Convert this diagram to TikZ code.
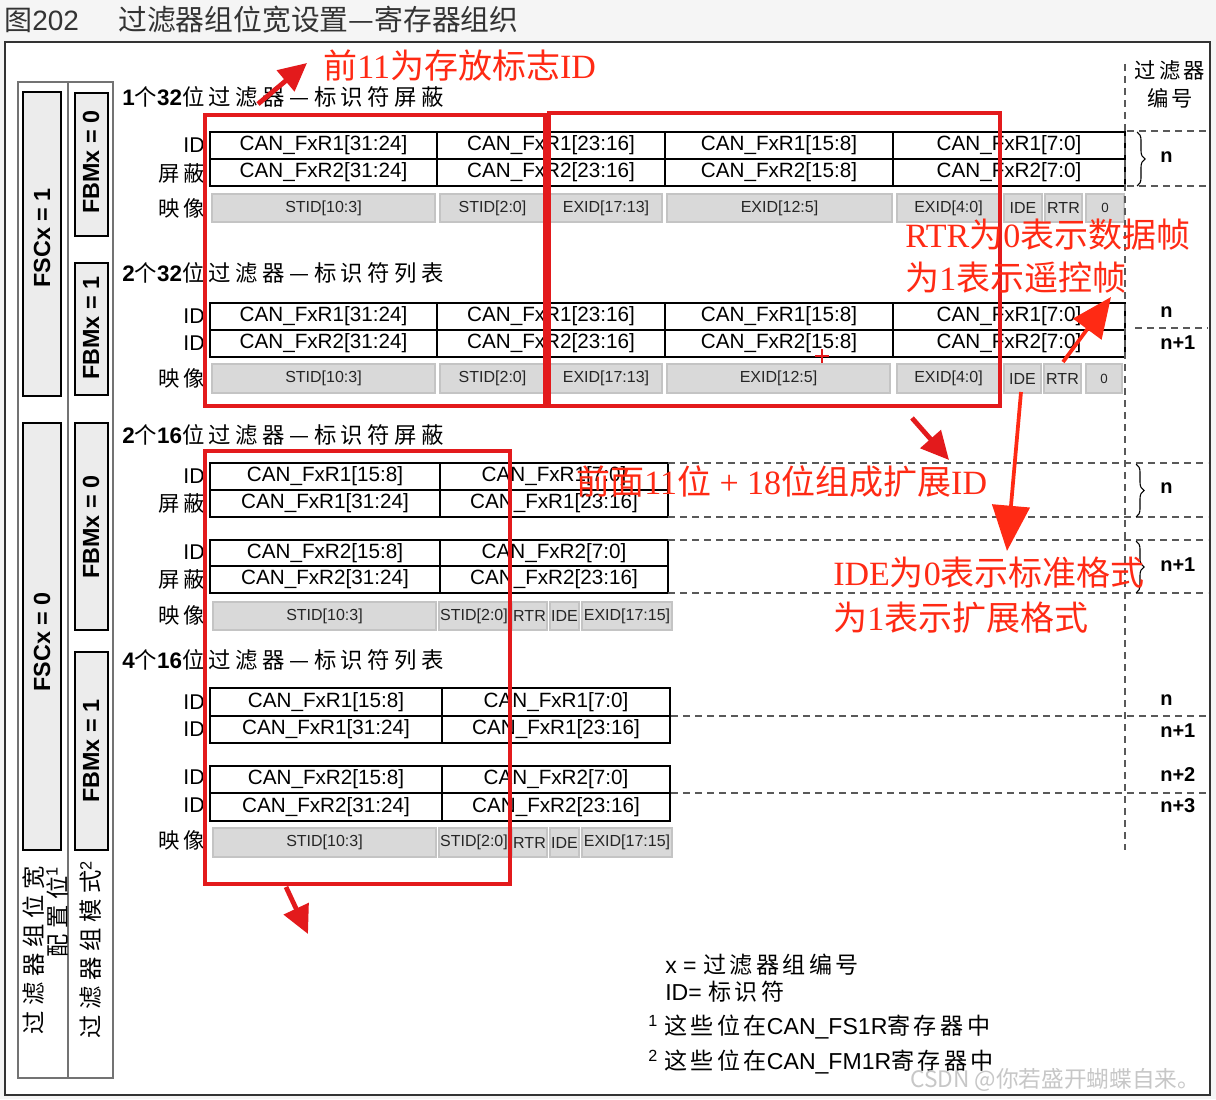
\documentclass[tikz,border=0pt]{standalone}
\usepackage{fontspec}
\setmainfont{Liberation Sans}
\newfontfamily\cjk{Noto Sans CJK SC}
\newfontfamily\cjks[LetterSpace=15]{Noto Sans CJK SC}
\newfontfamily\cjkt[LetterSpace=20]{Noto Sans CJK SC}
\newfontfamily\cjkv[LetterSpace=24]{Noto Sans CJK SC}
\newfontfamily\rser{Liberation Serif}
\usetikzlibrary{arrows.meta,decorations.pathreplacing}
\definecolor{redA}{HTML}{E31A1C}
\definecolor{redB}{HTML}{FF2A14}
\definecolor{cellgray}{HTML}{D9D9D9}
\definecolor{celledge}{HTML}{C4C4C4}
\definecolor{panelgray}{HTML}{ECECEC}
\definecolor{titlegray}{HTML}{333333}
\newcommand\fsz[2]{\fontsize{#1pt}{#2pt}\selectfont}
\tikzset{
  regbox/.style={draw=black, line width=1.1pt, fill=white},
  regtxt/.style={inner sep=0pt, font=\fsz{15.5}{18}},
  graybox/.style={draw=celledge, line width=1.2pt, fill=cellgray},
  graytxt/.style={inner sep=0pt, font=\fsz{12}{14}, text=black!85},
  lab/.style={anchor=east, inner sep=0pt, font=\fsz{16}{18}},
  sect/.style={anchor=west, inner sep=0pt, font=\cjkt\fsz{16.8}{19}},
  flag/.style={draw=black, line width=1pt, fill=panelgray},
  flagtxt/.style={rotate=90, inner sep=0pt, font=\bfseries\fsz{17.5}{20}},
  numlab/.style={anchor=west, inner sep=0pt, font=\bfseries\fsz{15}{18}},
  dline/.style={draw=black!65, line width=0.8pt, dash pattern=on 5pt off 4pt},
  brc/.style={draw=black, line width=0.8pt, decorate, decoration={brace, amplitude=6pt}},
  redbox/.style={draw=redA, line width=3.6pt},
  redtxt/.style={anchor=west, inner sep=0pt, text=redB, font=\fsz{25.5}{28}},
  redarrow/.style={draw=redA, line width=3.6pt, -{Triangle[length=21pt,width=20pt]}},
  redarrowB/.style={draw=redB, line width=2.8pt, -{Triangle[length=30pt,width=26pt]}},
  foot/.style={anchor=west, inner sep=0pt, font=\fsz{17.3}{20}}
}
\newcommand\regc[6]{\path[regbox] (#2,#3) rectangle (#4,#5);
  \node[regtxt] (#1) at ({(#2+#4)/2},{(#3+#5)/2}) {#6};}
\newcommand\grayc[6]{\path[graybox] (#2,#3) rectangle (#4,#5);
  \node[graytxt] (#1) at ({(#2+#4)/2},{(#3+#5)/2}) {#6};}
\newcommand\rc[1]{{\cjk #1}}
\newcommand\rl[1]{{\rser #1}}
\begin{document}
\begin{tikzpicture}[x=0.75pt,y=-0.75pt]
\useasboundingbox (0,0) rectangle (1216,1099);
\fill[black!4] (0,0) rectangle (1216,1099);
% title
\node[anchor=west, inner sep=0pt, text=titlegray, font=\fsz{21}{24}] (fignum) at (4,20) {{\cjk 图}202};
\node[anchor=west, inner sep=0pt, text=titlegray, font=\cjk\fsz{21.6}{24}] (title) at (118,20) {过滤器组位宽设置—寄存器组织};
% main frame
\draw[draw=black!80, line width=1.5pt, fill=white] (5,42) rectangle (1210,1095);
% left panel
\draw[draw=black!55, line width=0.8pt] (18,82) rectangle (113,1078) (68,82) -- (68,1078);
\path[flag] (23,92) rectangle (61,396);
\node[flagtxt] (fsc1) at (42,238) {FSCx = 1};
\path[flag] (75,93) rectangle (108,236);
\node[flagtxt] (fbm0a) at (91,162) {FBMx = 0};
\path[flag] (75,263) rectangle (108,395);
\node[flagtxt] (fbm1a) at (91,328) {FBMx = 1};
\path[flag] (23,423) rectangle (61,850);
\node[flagtxt] (fsc0) at (42,642) {FSCx = 0};
\path[flag] (75,423) rectangle (108,630);
\node[flagtxt] (fbm0b) at (91,527) {FBMx = 0};
\path[flag] (75,652) rectangle (108,850);
\node[flagtxt] (fbm1b) at (91,751) {FBMx = 1};
\node[rotate=90, anchor=east, align=right, inner sep=0pt, font=\cjkv\fsz{17.5}{18}] (wcfg) at (45,866) {过滤器组位宽\\配置位{\rmfamily\textsuperscript{1}}};
\node[rotate=90, anchor=east, inner sep=0pt, font=\cjkv\fsz{17.5}{18}] (mcfg) at (91,860) {过滤器组模式{\rmfamily\textsuperscript{2}}};
% section titles
\node[sect] (s1) at (122,97) {{\rmfamily\bfseries 1}个{\rmfamily\bfseries 32}位过滤器—标识符屏蔽};
\node[sect] (s2) at (122,273) {{\rmfamily\bfseries 2}个{\rmfamily\bfseries 32}位过滤器—标识符列表};
\node[sect] (s3) at (122,435) {{\rmfamily\bfseries 2}个{\rmfamily\bfseries 16}位过滤器—标识符屏蔽};
\node[sect] (s4) at (122,660) {{\rmfamily\bfseries 4}个{\rmfamily\bfseries 16}位过滤器—标识符列表};
% table 1
\regc{t1a}{210}{132}{437}{159}{CAN\_FxR1[31:24]}
\regc{t1b}{437}{132}{665}{159}{CAN\_FxR1[23:16]}
\regc{t1c}{665}{132}{893}{159}{CAN\_FxR1[15:8]}
\regc{t1d}{893}{132}{1125}{159}{CAN\_FxR1[7:0]}
\regc{t1e}{210}{159}{437}{186}{CAN\_FxR2[31:24]}
\regc{t1f}{437}{159}{665}{186}{CAN\_FxR2[23:16]}
\regc{t1g}{665}{159}{893}{186}{CAN\_FxR2[15:8]}
\regc{t1h}{893}{159}{1125}{186}{CAN\_FxR2[7:0]}
\grayc{g1a}{212}{194}{435}{222}{STID[10:3]}
\grayc{g1b}{440}{194}{545}{222}{STID[2:0]}
\grayc{g1c}{550}{194}{662}{222}{EXID[17:13]}
\grayc{g1d}{667}{194}{892}{222}{EXID[12:5]}
\grayc{g1e}{897}{194}{1000}{222}{EXID[4:0]}
\grayc{g1f}{1004}{194}{1042}{222}{IDE}
\grayc{g1g}{1045}{194}{1082}{222}{RTR}
\grayc{g1h}{1086}{194}{1124}{222}{\fsz{10}{12}0}
\node[lab] (l1a) at (205,145) {ID};
\node[lab, font=\cjks\fsz{16}{18}] (l1b) at (205,173) {屏蔽};
\node[lab, font=\cjks\fsz{16}{18}] (l1c) at (205,208) {映像};
% table 2
\regc{t2a}{210}{303}{437}{330}{CAN\_FxR1[31:24]}
\regc{t2b}{437}{303}{665}{330}{CAN\_FxR1[23:16]}
\regc{t2c}{665}{303}{893}{330}{CAN\_FxR1[15:8]}
\regc{t2d}{893}{303}{1125}{330}{CAN\_FxR1[7:0]}
\regc{t2e}{210}{330}{437}{357}{CAN\_FxR2[31:24]}
\regc{t2f}{437}{330}{665}{357}{CAN\_FxR2[23:16]}
\regc{t2g}{665}{330}{893}{357}{CAN\_FxR2[15:8]}
\regc{t2h}{893}{330}{1125}{357}{CAN\_FxR2[7:0]}
\grayc{g2a}{212}{364}{435}{393}{STID[10:3]}
\grayc{g2b}{440}{364}{545}{393}{STID[2:0]}
\grayc{g2c}{550}{364}{662}{393}{EXID[17:13]}
\grayc{g2d}{667}{364}{890}{393}{EXID[12:5]}
\grayc{g2e}{897}{364}{1000}{393}{EXID[4:0]}
\grayc{g2f}{1004}{364}{1041}{393}{IDE}
\grayc{g2g}{1044}{364}{1081}{393}{RTR}
\grayc{g2h}{1086}{364}{1122}{393}{\fsz{10}{12}0}
\node[lab] (l2a) at (205,316) {ID};
\node[lab] (l2b) at (205,343) {ID};
\node[lab, font=\cjks\fsz{16}{18}] (l2c) at (205,378) {映像};
% table 3
\regc{t3a}{210}{463}{440}{490}{CAN\_FxR1[15:8]}
\regc{t3b}{440}{463}{668}{490}{CAN\_FxR1[7:0]}
\regc{t3c}{210}{490}{440}{517}{CAN\_FxR1[31:24]}
\regc{t3d}{440}{490}{668}{517}{CAN\_FxR1[23:16]}
\regc{t3e}{210}{540}{440}{566}{CAN\_FxR2[15:8]}
\regc{t3f}{440}{540}{668}{566}{CAN\_FxR2[7:0]}
\regc{t3g}{210}{566}{440}{593}{CAN\_FxR2[31:24]}
\regc{t3h}{440}{566}{668}{593}{CAN\_FxR2[23:16]}
\grayc{g3a}{213}{602}{436}{630}{STID[10:3]}
\grayc{g3b}{439}{602}{509}{630}{STID[2:0]}
\grayc{g3c}{512}{602}{547}{630}{RTR}
\grayc{g3d}{550}{602}{579}{630}{IDE}
\grayc{g3e}{582}{602}{672}{630}{EXID[17:15]}
\node[lab] (l3a) at (205,476) {ID};
\node[lab, font=\cjks\fsz{16}{18}] (l3b) at (205,503) {屏蔽};
\node[lab] (l3c) at (205,552) {ID};
\node[lab, font=\cjks\fsz{16}{18}] (l3d) at (205,579) {屏蔽};
\node[lab, font=\cjks\fsz{16}{18}] (l3e) at (205,615) {映像};
% table 4
\regc{t4a}{210}{688}{442}{716}{CAN\_FxR1[15:8]}
\regc{t4b}{442}{688}{670}{716}{CAN\_FxR1[7:0]}
\regc{t4c}{210}{716}{442}{743}{CAN\_FxR1[31:24]}
\regc{t4d}{442}{716}{670}{743}{CAN\_FxR1[23:16]}
\regc{t4e}{210}{766}{442}{793}{CAN\_FxR2[15:8]}
\regc{t4f}{442}{766}{670}{793}{CAN\_FxR2[7:0]}
\regc{t4g}{210}{793}{442}{821}{CAN\_FxR2[31:24]}
\regc{t4h}{442}{793}{670}{821}{CAN\_FxR2[23:16]}
\grayc{g4a}{213}{828}{436}{857}{STID[10:3]}
\grayc{g4b}{439}{828}{509}{857}{STID[2:0]}
\grayc{g4c}{512}{828}{547}{857}{RTR}
\grayc{g4d}{550}{828}{579}{857}{IDE}
\grayc{g4e}{582}{828}{672}{857}{EXID[17:15]}
\node[lab] (l4a) at (205,702) {ID};
\node[lab] (l4b) at (205,729) {ID};
\node[lab] (l4c) at (205,777) {ID};
\node[lab] (l4d) at (205,805) {ID};
\node[lab, font=\cjks\fsz{16}{18}] (l4e) at (205,840) {映像};
% right side numbering
\node[align=center, inner sep=0pt, font=\cjks\fsz{16}{21}] (fnum) at (1170,84) {过滤器\\编号};
\path[dline] (1125,64) -- (1125,850);
\path[dline] (1127,131) -- (1208,131) (1127,186) -- (1208,186);
\path[dline] (1135,328) -- (1208,328);
\path[dline] (668,463) -- (1208,463) (668,517) -- (1208,517);
\path[dline] (668,540) -- (1208,540) (668,593) -- (1208,593);
\path[dline] (671,716) -- (1208,716) (671,793) -- (1208,793);
\path[brc] (1137,132) -- (1137,186);
\path[brc] (1136,464) -- (1136,517);
\path[brc] (1136,541) -- (1136,593);
\node[numlab] (n1) at (1160,157) {n};
\node[numlab] (n2a) at (1160,312) {n};
\node[numlab] (n2b) at (1160,343) {n+1};
\node[numlab] (n3a) at (1160,488) {n};
\node[numlab] (n3b) at (1160,565) {n+1};
\node[numlab] (n4a) at (1160,700) {n};
\node[numlab] (n4b) at (1160,731) {n+1};
\node[numlab] (n4c) at (1160,775) {n+2};
\node[numlab] (n4d) at (1160,806) {n+3};
% footnotes
\node[foot] (fx) at (665,965) {x = {\cjks 过滤器组编号}};
\node[foot] (fid) at (665,992) {ID= {\cjks 标识符}};
\node[foot] (f1) at (648,1027) {\textsuperscript{1} {\cjks 这些位在}CAN\_FS1R{\cjks 寄存器中}};
\node[foot] (f2) at (648,1062) {\textsuperscript{2} {\cjks 这些位在}CAN\_FM1R{\cjks 寄存器中}};
\node[anchor=west, inner sep=0pt, text=black!22, font=\cjk\fsz{17}{20}] (wm) at (910,1080) {CSDN @你若盛开蝴蝶自来。};
% red annotations
\path[redbox] (205,115) rectangle (545,406);
\path[redbox] (549,113) rectangle (1000,406);
\path[redbox] (205,451) rectangle (510,884);
\draw[redA, line width=1.2pt] (815,356) -- (829,356) (822,349) -- (822,363);
\node[redtxt] (r1) at (323,66) {\rc{前}\rl{11}\rc{为存放标志}\rl{ID}};
\node[redtxt] (r2) at (905,235) {\rl{RTR}\rc{为}\rl{0}\rc{表示数据帧}};
\node[redtxt] (r3) at (905,278) {\rc{为}\rl{1}\rc{表示遥控帧}};
\node[redtxt] (r4) at (576,482) {\rc{前面}\rl{11}\rc{位}\rl{ + 18}\rc{位组成扩展}\rl{ID}};
\node[redtxt] (r5) at (833,573) {\rl{IDE}\rc{为}\rl{0}\rc{表示标准格式}};
\node[redtxt] (r6) at (833,618) {\rc{为}\rl{1}\rc{表示扩展格式}};
\coordinate (a1s) at (258,104); \coordinate (a1e) at (307,63);
\coordinate (a2s) at (1063,362); \coordinate (a2e) at (1111,297);
\coordinate (a3s) at (1021,392); \coordinate (a3e) at (1007,551);
\coordinate (a4s) at (912,418); \coordinate (a4e) at (949,460);
\coordinate (a5s) at (286,887); \coordinate (a5e) at (308,934);
\draw[redarrow] (a1s) -- (a1e);
\draw[redarrowB] (a2s) -- (a2e);
\draw[redarrowB, -{Triangle[length=34pt,width=28pt]}] (a3s) -- (a3e);
\draw[redarrow] (a4s) -- (a4e);
\draw[redarrow] (a5s) -- (a5e);
\end{tikzpicture}
\end{document}
